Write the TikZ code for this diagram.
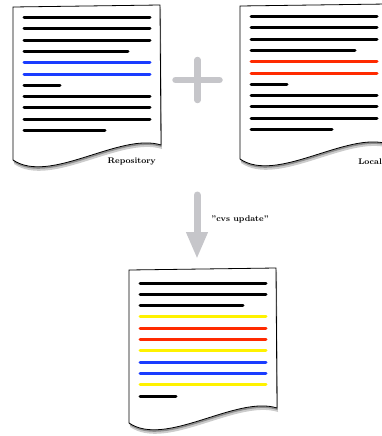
\documentclass[tikz,border=0pt]{standalone}
\usepackage[HTML]{xcolor}
\usetikzlibrary{positioning, arrows.meta, shadows}

\definecolor{lineblue}{HTML}{1A3CFF}
\definecolor{linered}{HTML}{FF2A00}
\definecolor{lineyellow}{HTML}{FFF200}
\definecolor{markgray}{HTML}{C6C6CA}

\begin{document}
\begin{tikzpicture}[
  x=1pt, y=-1pt,
  every node/.style={font=\fontsize{8.2}{9}\selectfont\bfseries, inner sep=0pt},
  paper/.style={draw=black, line width=0.8pt, fill=white,
    drop shadow={shadow xshift=1pt, shadow yshift=-4pt, opacity=.2, fill=black},
    drop shadow={shadow xshift=0.5pt, shadow yshift=-2pt, opacity=.3, fill=black}},
  textline/.style={line width=3pt, line cap=round},
  plusbar/.style={draw=markgray, line width=6.5pt, line cap=round},
  updatearrow/.style={draw=markgray, line width=7pt, line cap=round,
    -{Triangle[width=20pt, length=27pt, fill=markgray]}},
  page/.pic={
    \draw[paper] (0,0) -- (147,-2) -- (148,138)
      .. controls (107,125) and (37,178) .. (0,153) -- cycle;
  }
  ]
\clip (0,0) rectangle (382,436);

% repository copy
\begin{scope}[shift={(13,7)}]
  \pic {page};
  \foreach \k/\e/\c in {0/137/black, 1/137/black, 2/137/black, 3/115/black,
      4/137/lineblue, 5/137/lineblue, 6/47/black, 7/137/black,
      8/137/black, 9/137/black, 10/92/black}
    \draw[textline, draw=\c] (11,10.5+11.3*\k) -- (\e,10.5+11.3*\k);
\end{scope}
\node[anchor=east] (repolabel) at (156,162) {Repository};

% plus
\coordinate (plus) at (197.5,80);
\draw[plusbar] ([xshift=-22pt]plus) -- ([xshift=22pt]plus);
\draw[plusbar] ([yshift=20pt]plus) -- ([yshift=-20pt]plus);

% local copy
\begin{scope}[shift={(240,6)}]
  \pic {page};
  \foreach \k/\e/\c in {0/137/black, 1/137/black, 2/137/black, 3/115/black,
      4/137/linered, 5/137/linered, 6/47/black, 7/137/black,
      8/137/black, 9/137/black, 10/92/black}
    \draw[textline, draw=\c] (11,10.5+11.3*\k) -- (\e,10.5+11.3*\k);
\end{scope}
\node[anchor=east] (locallabel) at (382,162) {Local};

% update arrow
\coordinate (mergetop) at (197,195);
\coordinate (mergebottom) at (197,259);
\draw[updatearrow] (mergetop) -- (mergebottom);
\node (updatelabel) at (240,219) {''cvs update''};

% merged copy
\begin{scope}[shift={(129,270)}]
  \pic {page};
  \foreach \k/\e/\c in {0/137/black, 1/137/black, 2/114/black, 3/137/lineyellow,
      4/137/linered, 5/137/linered, 6/137/lineyellow, 7/137/lineblue,
      8/137/lineblue, 9/137/lineyellow, 10/47/black}
    \draw[textline, draw=\c] (11,13+11.3*\k) -- (\e,13+11.3*\k);
\end{scope}
\end{tikzpicture}
\end{document}
